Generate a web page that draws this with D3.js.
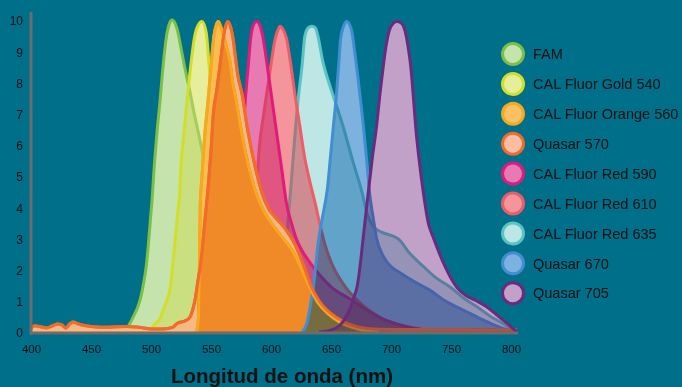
<!DOCTYPE html>
<html>
<head>
<meta charset="utf-8">
<script src="https://cdn.jsdelivr.net/npm/d3@7"></script>
<style>
  html, body { margin: 0; padding: 0; background: #006f89; }
  svg { display: block; font-family: "Liberation Sans", Arial, sans-serif; }
</style>
</head>
<body>
<svg id="chart" width="682" height="387"></svg>
<script>
// legend / series names
const names = ['FAM', 'CAL Fluor Gold 540', 'CAL Fluor Orange 560', 'Quasar 570',
  'CAL Fluor Red 590', 'CAL Fluor Red 610', 'CAL Fluor Red 635', 'Quasar 670', 'Quasar 705']

// emission spectra, [wavelength nm, intensity]
const fam = [[476,0],[480,0.12],[482.5,0.28],[486,0.55],[489,0.8],[492,1.2],[494,1.6],[496,2.1],[498,2.9],[499.5,3.6],[501,4.3],[502.5,5.2],[505,6.4],[507.5,7.4],[510,8.5],[513,9.5],[515.5,9.9],[517.5,10],[520,9.9],[522.5,9.6],[525,9.1],[528,8.5],[532.5,7.7],[536,7.0],[540,6.3],[548,4.8],[556,3.4],[565,2.3],[575,1.5],[590,0.8],[610,0.35],[630,0.1],[650,0]]
const gold540 = [[498,0],[501,0.15],[504,0.28],[507.5,0.42],[511,0.8],[514,1.1],[516,1.4],[518,2.1],[520,2.9],[522,3.7],[524,4.5],[525,5.3],[527.5,6.4],[530,7.4],[533,8.5],[536.5,9.5],[539.5,9.85],[542.5,9.95],[546,9.6],[548.5,8.5],[551,7.4],[553,6.7],[555,6.1],[560,5.2],[567,4.0],[575,3.0],[585,2.1],[597,1.3],[612,0.7],[630,0.3],[650,0.1],[670,0]]
const orange560 = [[538,0],[539.5,0.4],[540,1.2],[540.5,2.5],[541,4.0],[542.5,5.0],[545,6.4],[547.5,7.4],[550,8.5],[552.5,9.5],[554.5,9.85],[556,9.95],[558,9.8],[561,9.4],[563,9.1],[566,8.6],[568,8.0],[571,7.4],[575,6.5],[579,5.7],[584,4.9],[589,4.3],[595,3.8],[602,3.4],[610,3.0],[618,2.6],[625,2.05],[632,1.45],[639,0.95],[647,0.6],[657,0.32],[668,0.14],[680,0.03],[690,0]]
const quasar570 = [[400,0.12],[403,0.2],[408,0.17],[413,0.13],[418,0.2],[422,0.26],[426,0.22],[429,0.12],[432,0.25],[435,0.32],[440,0.25],[450,0.18],[465,0.15],[480,0.18],[490,0.15],[500,0.1],[510,0.1],[518,0.15],[522,0.28],[528,0.35],[532,0.45],[535,0.75],[537,1.1],[539,1.6],[541,2.1],[542.5,2.6],[545,3.6],[548,4.8],[550,5.8],[552,7.0],[555,7.8],[558,8.7],[561,9.6],[564,9.95],[567.5,9.6],[572.5,8.2],[576,7.6],[580,6.6],[584,5.8],[588,5.1],[593,4.4],[598,3.95],[603,3.7],[611,3.35],[620,2.8],[627,2.15],[633,1.5],[640,1.0],[649,0.62],[660,0.34],[671,0.18],[685,0.1],[720,0.08],[760,0.07],[805,0.06]]
const red590 = [[566,0],[570,0.4],[572,1.5],[574,3.5],[576,5.5],[578,7.1],[581,8.5],[583,9.4],[585.5,9.85],[588,9.95],[590.5,9.85],[593,9.5],[597,8.5],[601,7.4],[605,6.3],[609,5.2],[613,4.1],[617,3.5],[621,3.0],[626,2.6],[632,2.25],[640,1.85],[650,1.45],[666,1.05],[680,0.7],[693,0.42],[710,0.2],[730,0.06],[745,0]]
const red610 = [[578,0],[582,0.8],[585,2.5],[588,4.6],[590,5.8],[594,7.0],[599,8.3],[603,9.3],[606,9.7],[607.5,9.8],[610,9.7],[613,9.4],[616,8.7],[620,7.6],[624,6.6],[628,5.6],[632.5,4.8],[637,4.1],[641,3.4],[645,2.8],[650,2.25],[660,1.55],[675,0.9],[690,0.48],[710,0.18],[730,0.04],[745,0]]
const red635 = [[598,0],[604,0.5],[609,1.5],[613,3.0],[616.5,4.6],[619.5,6.1],[622.5,7.4],[625.8,8.5],[628.3,9.5],[631,9.75],[634,9.8],[637,9.75],[639,9.5],[643,8.7],[649,7.9],[655,7.2],[660,6.6],[668,5.5],[676,4.45],[680,3.8],[685,3.4],[692,3.2],[700,3.1],[707,2.95],[715,2.55],[727,2.1],[737,1.75],[749,1.45],[760,1.1],[772,0.8],[783,0.5],[793,0.28],[803,0]]
const quasar670 = [[626,0],[630,0.3],[633,0.9],[635.5,1.5],[637.5,2.2],[639.5,2.9],[642.5,3.6],[647,4.6],[650,5.8],[652,6.6],[654.5,7.6],[656.5,8.6],[658,9.4],[660.5,9.8],[663,9.95],[665.5,9.85],[667.5,9.6],[670,8.9],[672,8.3],[675,7.3],[677,6.6],[680,5.4],[682,4.5],[685,3.7],[688,3.0],[694,2.4],[700,2.1],[707.5,1.9],[720,1.6],[732,1.35],[745,1.0],[763,0.65],[777,0.38],[790,0.16],[802,0]]
const quasar705 = [[640,0],[650,0.06],[657,0.2],[662,0.45],[666,0.75],[669,1.1],[672,1.5],[674.5,2.2],[676.5,2.9],[678.5,3.6],[681,4.45],[684.5,5.6],[688,6.6],[691,7.7],[693.5,8.5],[696,9.2],[698.5,9.65],[702,9.9],[705,9.95],[708.5,9.9],[712,9.6],[714,9.2],[716.5,8.5],[718.5,7.6],[720.5,6.6],[723.5,5.5],[727,4.45],[731,3.5],[735,3.05],[740,2.55],[745,2.1],[750,1.72],[755,1.42],[762,1.18],[771,1.0],[780,0.8],[788,0.55],[796,0.3],[805,0]]

const spectra = [fam, gold540, orange560, quasar570, red590, red610, red635, quasar670, quasar705]

const xTicks = [400, 450, 500, 550, 600, 650, 700, 750, 800]
const yTicks = [0, 1, 2, 3, 4, 5, 6, 7, 8, 9, 10]
const xTitle = 'Longitud de onda (nm)'

// styles
const fills   = ['#c5e3ad', '#e6ee9c', '#f9be50', '#f6b982', '#e779b3', '#f3959a', '#bee6e5', '#7db2de', '#c2a1c8']
// share of each fill laid over (not multiplied with) what lies below
const cover   = [0, 0.45, 0, 0, 0.3, 0.4, 0.2, 0.15, 0.15]
const strokes = ['#7bbf43', '#d2df26', '#f7a81e', '#f26b2b', '#df1b7b', '#ee5d67', '#5bc3c3', '#3f8fd2', '#6b2a7d']
const legendFills = ['#c5e3ad', '#e6ee9c', '#f9c163', '#fbbea1', '#e779b3', '#f3959a', '#bee6e5', '#7db2de', '#c2a1c8']
// drawing order, back to front (index into names)
const drawOrder = [0, 1, 6, 5, 4, 'orange', 7, 'orangeLines', 8]

const svg = d3.select('#chart')

const x = d3.scaleLinear().domain([400, 800]).range([31, 511])
const y = d3.scaleLinear().domain([0, 10]).range([332, 20])

const area = d3.area()
  .x(d => x(d[0]))
  .y0(y(0))
  .y1(d => y(d[1]))
  .curve(d3.curveMonotoneX)
const line = d3.line()
  .x(d => x(d[0]))
  .y(d => y(d[1]))
  .curve(d3.curveMonotoneX)

const plot = svg.append('g').style('isolation', 'isolate')

function drawLine(g, i) {
  g.append('path')
    .attr('d', line(spectra[i]))
    .attr('fill', 'none')
    .attr('stroke', strokes[i])
    .attr('stroke-width', 3)
    .attr('stroke-linejoin', 'round')
}

function drawSeries(g, i, blend) {
  g.append('path')
    .attr('d', area(spectra[i]))
    .attr('fill', fills[i])
    .style('mix-blend-mode', blend)
  if (cover[i] > 0) {
    g.append('path')
      .attr('d', area(spectra[i]))
      .attr('fill', fills[i])
      .attr('fill-opacity', cover[i])
  }
  drawLine(g, i)
}

drawOrder.forEach(k => {
  if (k === 'orange') {
    // the two orange dyes sit on top, blending only with each other
    const og = plot.append('g').style('isolation', 'isolate')
    drawSeries(og, 2, 'normal')
    drawSeries(og, 3, 'multiply')
  } else if (k === 'orangeLines') {
    // their tails stay visible through the Quasar 670 fill
    drawLine(plot, 2)
    drawLine(plot, 3)
  } else {
    drawSeries(plot, k, 'multiply')
  }
})

// axes
const axisColor = '#6d6d6d'
svg.append('line')
  .attr('x1', x(400)).attr('x2', x(400))
  .attr('y1', y(0) + 1.5).attr('y2', y(10.22))
  .attr('stroke', axisColor).attr('stroke-width', 3).attr('stroke-linecap', 'round')
svg.append('line')
  .attr('x1', x(400)).attr('x2', x(806))
  .attr('y1', y(0) + 1).attr('y2', y(0) + 1)
  .attr('stroke', axisColor).attr('stroke-width', 3)

const xAxis = svg.append('g')
  .attr('transform', `translate(0,${y(0) + 1})`)
  .call(d3.axisBottom(x).tickValues(xTicks).tickSize(0).tickPadding(12).tickFormat(d3.format('d')))
xAxis.select('.domain').remove()
xAxis.selectAll('text')
  .attr('fill', '#111')
  .style('font-size', '11.5px')
  .style('font-family', '"Liberation Sans", Arial, sans-serif')

const yAxis = svg.append('g')
  .attr('transform', `translate(${x(400)},0)`)
  .call(d3.axisLeft(y).tickValues(yTicks).tickSize(0).tickPadding(8))
yAxis.select('.domain').remove()
yAxis.selectAll('text')
  .attr('fill', '#111')
  .attr('dy', '0.4em')
  .style('font-size', '12px')
  .style('font-family', '"Liberation Sans", Arial, sans-serif')

svg.append('text')
  .attr('x', 282).attr('y', 383)
  .attr('text-anchor', 'middle')
  .attr('fill', '#111')
  .style('font-size', '20.5px')
  .style('font-weight', 'bold')
  .text(xTitle)

// legend
const legend = svg.append('g').attr('transform', 'translate(513,54)')
const item = legend.selectAll('g')
  .data(names)
  .join('g')
  .attr('transform', (d, i) => `translate(0,${i * 29.9})`)
item.append('circle')
  .attr('r', 10.5)
  .attr('fill', (d, i) => legendFills[i])
  .attr('stroke', (d, i) => strokes[i])
  .attr('stroke-width', 3)
item.append('text')
  .attr('x', 20)
  .attr('dy', '0.36em')
  .attr('fill', '#111')
  .style('font-size', '14.5px')
  .text(d => d)
</script>
</body>
</html>
